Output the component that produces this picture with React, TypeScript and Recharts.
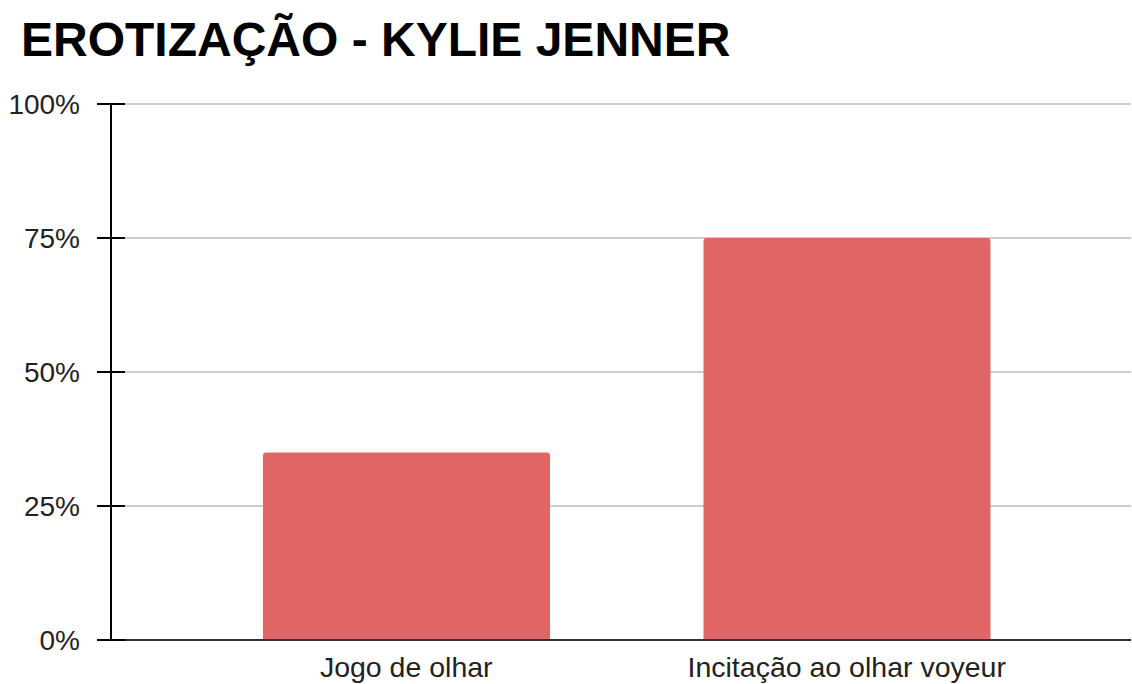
import { BarChart, Bar, XAxis, YAxis, CartesianGrid } from "recharts";

const TITLE = "EROTIZAÇÃO - KYLIE JENNER";
const categories = ["Jogo de olhar", "Incitação ao olhar voyeur"];
const shares = [0.35, 0.75];
const yTicks = [0, 0.25, 0.5, 0.75, 1];

const data = categories.map((name, i) => ({ name, value: shares[i] }));

const FONT = "'Liberation Sans', Arial, sans-serif";
const pct = (v: number) => `${Math.round(v * 100)}%`;

// y tick: mark crosses the axis on both sides, label to the left
function YTick(props: any) {
  const { x, y, payload } = props;
  return (
    <g>
      <line x1={x + 17} x2={x + 45} y1={y} y2={y} stroke="#000" strokeWidth={2} />
      <text x={x} y={y} dy="0.35em" textAnchor="end" fontSize={28} fill="#222" fontFamily={FONT}>
        {pct(payload.value)}
      </text>
    </g>
  );
}

export default function App() {
  return (
    <div style={{ position: "absolute", left: 0, top: 0, width: 1132, height: 684, background: "#fff" }}>
      <div
        style={{
          position: "absolute", left: 21, top: 16, fontFamily: FONT, fontWeight: 700,
          fontSize: 48, lineHeight: "48px", color: "#000", whiteSpace: "nowrap",
        }}
      >
        {TITLE}
      </div>
      <BarChart
        width={1132}
        height={684}
        data={data}
        margin={{ top: 104, right: 1, bottom: 0, left: 0 }}
        barCategoryGap={77}
      >
        <CartesianGrid vertical={false} stroke="#ccc" strokeWidth={2} />
        <XAxis
          dataKey="name"
          padding={{ left: 75, right: 64 }}
          height={44}
          tickLine={false}
          tickSize={0}
          tickMargin={17}
          axisLine={{ stroke: "#333", strokeWidth: 2 }}
          tick={{ fontSize: 28.5, fill: "#222", fontFamily: FONT }}
        />
        <YAxis
          width={111}
          domain={[0, 1]}
          ticks={yTicks}
          interval={0}
          tickLine={false}
          tickSize={14}
          tickMargin={17}
          axisLine={{ stroke: "#000", strokeWidth: 2 }}
          tick={<YTick />}
        />
        <Bar dataKey="value" fill="#e06666" radius={[3, 3, 0, 0]} isAnimationActive={false} />
      </BarChart>
    </div>
  );
}
